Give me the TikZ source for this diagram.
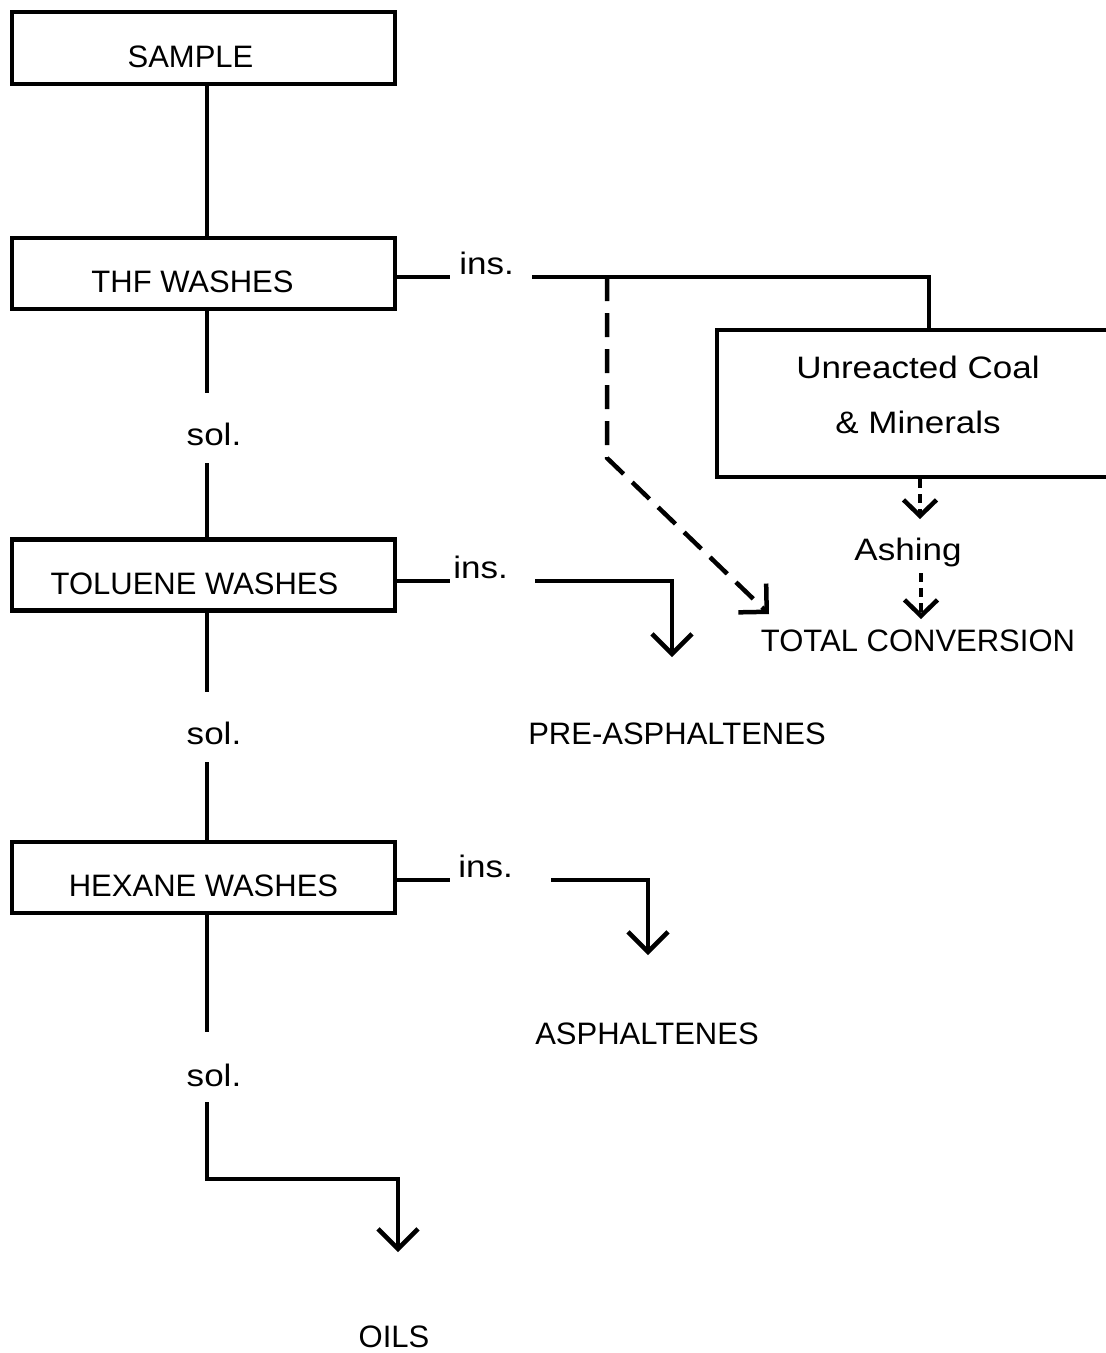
\documentclass[tikz,border=0pt]{standalone}
\usepackage{fontspec}
\setmainfont{Liberation Sans}
\newfontfamily\lcfont[FakeStretch=1.13]{Liberation Sans}
\usetikzlibrary{arrows.meta}
\tikzset{
  box/.style={draw, line width=4.5pt, inner sep=0pt, minimum width=383pt,
    minimum height=71pt, text height=38pt, text depth=0pt,
    font=\fontsize{31}{37}\selectfont},
  lbl/.style={inner sep=0pt, font=\fontsize{31}{37}\selectfont},
  lc/.style={inner sep=0pt, font=\fontsize{31}{55}\selectfont\lcfont},
  barb/.style={-{Straight Barb[length=20pt,width=40pt]}},
  sbarb/.style={-{Straight Barb[length=16pt,width=33pt]}},
  dashA/.style={dash pattern=on 24pt off 12pt},
  dashB/.style={dash pattern=on 9pt off 6pt},
}
\begin{document}
\begin{tikzpicture}[x=1pt,y=-1pt,line width=4.5pt]
\useasboundingbox (0,0) rectangle (1106,1353);

% boxes
\node[box, minimum height=72pt] (sample) at (203.5,48) {SAMPLE\hspace*{26pt}};
\node[box] (thf) at (203.5,273.5) {THF WASHES\hspace*{22pt}};
\node[box] (tol) at (203.5,575) {TOLUENE WASHES\hspace*{18pt}};
\node[box] (hex) at (203.5,877.5) {HEXANE WASHES};
\node[draw, line width=4.5pt, inner sep=0pt, minimum width=398pt, minimum height=147pt] (coal) at (916,403.5) {};
\node[lc, align=center, anchor=base] (coaltxt) at (918,433) {Unreacted Coal\\\& Minerals};

% labels
\node[lc] (sol1) at (214,434) {sol.};
\node[lc] (sol2) at (214,733) {sol.};
\node[lc] (sol3) at (214,1075) {sol.};
\node[lc, anchor=base west] (ins1) at (457,274) {ins.};
\node[lc, anchor=base west] (ins2) at (451,578) {ins.};
\node[lc, anchor=base west] (ins3) at (456,877) {ins.};
\node[lbl] (pre) at (677,734) {PRE-ASPHALTENES};
\node[lbl] (asph) at (647,1034) {ASPHALTENES};
\node[lbl] (oils) at (394,1337) {OILS};
\node[lbl] (tc) at (918,641) {TOTAL CONVERSION};
\node[lc, anchor=base] (ash) at (908,560) {Ashing};

% coordinates
\coordinate (m) at (207,0);
\coordinate (s1a) at (207,393);
\coordinate (s1b) at (207,463);
\coordinate (s2a) at (207,692);
\coordinate (s2b) at (207,762);
\coordinate (s3a) at (207,1032);
\coordinate (s3b) at (207,1102);
\coordinate (t4) at (398,1252);
\coordinate (l1) at (450,277);
\coordinate (r1) at (532,277);
\coordinate (j1) at (929,277);
\coordinate (d1) at (607,277);
\coordinate (d1b) at (607,458);
\coordinate (t1) at (769,614);
\coordinate (l2) at (450,581);
\coordinate (r2) at (535,581);
\coordinate (t2) at (672,657);
\coordinate (l3) at (450,880);
\coordinate (r3) at (551,880);
\coordinate (t3) at (648,955);
\coordinate (at1) at (920,519);
\coordinate (at2a) at (921,573);
\coordinate (at2) at (921,619);

% main column
\draw (sample.south -| m) -- (thf.north -| m);
\draw (thf.south -| m) -- (s1a);
\draw (s1b) -- (tol.north -| m);
\draw (tol.south -| m) -- (s2a);
\draw (s2b) -- (hex.north -| m);
\draw (hex.south -| m) -- (s3a);
\draw[barb] (s3b) -- ++(0,77) -| (t4);

% THF insolubles
\draw (thf.east |- l1) -- (l1);
\draw (r1) -- (j1) -- (j1 |- coal.north);
\draw[dashA, barb] (d1) -- (d1b) -- (t1);
\draw[dashB, sbarb] (coal.south -| at1) -- (at1);
\draw[dashB, sbarb] (at2a) -- (at2);

% toluene insolubles
\draw (tol.east |- l2) -- (l2);
\draw[barb] (r2) -| (t2);

% hexane insolubles
\draw (hex.east |- l3) -- (l3);
\draw[barb] (r3) -| (t3);
\end{tikzpicture}
\end{document}
